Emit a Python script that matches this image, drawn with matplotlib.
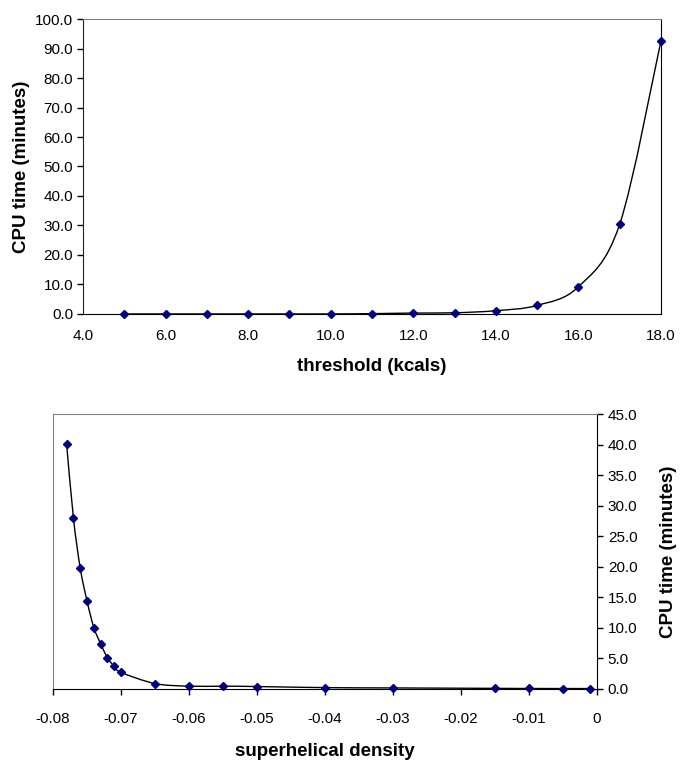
import matplotlib
matplotlib.use("Agg")
import matplotlib.pyplot as plt
import numpy as np
from matplotlib.path import Path
from matplotlib.patches import PathPatch
from matplotlib.ticker import FormatStrFormatter, FuncFormatter

plt.rcParams["font.family"] = ["Liberation Sans", "DejaVu Sans"]

# Top panel: CPU time vs energy threshold
threshold = [5, 6, 7, 8, 9, 10, 11, 12, 13, 14, 15, 16, 17, 18]
cpu_threshold = [0.0, 0.0, 0.0, 0.0, 0.0, 0.0, 0.1, 0.3, 0.4, 1.1, 2.9, 9.2, 30.4, 92.6]

# Bottom panel: CPU time vs superhelical density
density = [-0.078, -0.077, -0.076, -0.075, -0.074, -0.073, -0.072, -0.071, -0.070,
           -0.065, -0.060, -0.055, -0.050, -0.040, -0.030, -0.015, -0.010, -0.005, -0.001]
cpu_density = [40.1, 28.0, 19.8, 14.4, 10.05, 7.4, 5.1, 3.7, 2.7,
               0.87, 0.44, 0.44, 0.38, 0.2, 0.15, 0.08, 0.06, 0.05, 0.05]

MARKER = "#000080"
GRAY = "#808080"
TICK_FS = 11
LABEL_FS = 13.5


def smooth_path(x, y):
    """Excel-style smoothed line: cubic Bezier segments through the points."""
    p = np.column_stack([x, y]).astype(float)
    ext = np.vstack([p[0], p, p[-1]])
    verts = [p[0]]
    codes = [Path.MOVETO]
    for i in range(len(p) - 1):
        p0, p1, p2, p3 = ext[i], ext[i + 1], ext[i + 2], ext[i + 3]
        c1 = p1 + (p2 - p0) / 6.0
        c2 = p2 - (p3 - p1) / 6.0
        verts += [c1, c2, p2]
        codes += [Path.CURVE4] * 3
    return Path(verts, codes)


def draw_series(ax, x, y):
    ax.add_patch(PathPatch(smooth_path(x, y), fill=False, edgecolor="black",
                           lw=1.0, zorder=3, clip_on=False))
    ax.plot(x, y, ls="none", marker="D", ms=4.0, color=MARKER, zorder=4,
            clip_on=False)


fig = plt.figure(figsize=(6.8, 7.62), dpi=100)

# ---- top panel
ax1 = fig.add_axes([0.122, 0.588, 0.850, 0.387])
draw_series(ax1, threshold, cpu_threshold)
ax1.set_xlim(4, 18)
ax1.set_ylim(0, 100)
ax1.set_xticks(np.arange(4, 19, 2))
ax1.set_yticks(np.arange(0, 101, 10))
ax1.xaxis.set_major_formatter(FormatStrFormatter("%.1f"))
ax1.yaxis.set_major_formatter(FormatStrFormatter("%.1f"))
ax1.tick_params(axis="y", direction="out", length=4, width=1, labelsize=TICK_FS, pad=3)
ax1.tick_params(axis="x", length=0, labelsize=TICK_FS, pad=11)
ax1.spines["top"].set_color(GRAY)
ax1.spines["left"].set_color("#202020")
ax1.spines["bottom"].set_color("black")
ax1.spines["right"].set_color("black")
ax1.set_xlabel("threshold (kcals)", fontsize=LABEL_FS, fontweight="bold", labelpad=11)
ax1.set_ylabel("CPU time (minutes)", fontsize=LABEL_FS, fontweight="bold", labelpad=4)

# ---- bottom panel
ax2 = fig.add_axes([0.078, 0.096, 0.7995, 0.3603])
draw_series(ax2, density, cpu_density)
ax2.set_xlim(-0.08, 0)
ax2.set_ylim(0, 45)
ax2.set_xticks(np.linspace(-0.08, 0, 9))
ax2.set_yticks(np.arange(0, 46, 5))
ax2.xaxis.set_major_formatter(FuncFormatter(lambda v, _: "0" if abs(v) < 1e-9 else f"{v:.2f}"))
ax2.yaxis.set_major_formatter(FormatStrFormatter("%.1f"))
ax2.yaxis.tick_right()
ax2.yaxis.set_label_position("right")
ax2.tick_params(axis="y", direction="out", length=4, width=1, labelsize=TICK_FS, pad=4)
ax2.tick_params(axis="x", direction="out", length=4, width=1, labelsize=TICK_FS, pad=13)
ax2.spines["top"].set_color(GRAY)
ax2.spines["left"].set_color(GRAY)
ax2.spines["bottom"].set_color("black")
ax2.spines["right"].set_color("black")
ax2.set_xlabel("superhelical density", fontsize=LABEL_FS, fontweight="bold", labelpad=12)
ax2.set_ylabel("CPU time (minutes)", fontsize=LABEL_FS, fontweight="bold", labelpad=16)

fig.savefig("out.png", dpi=100)
